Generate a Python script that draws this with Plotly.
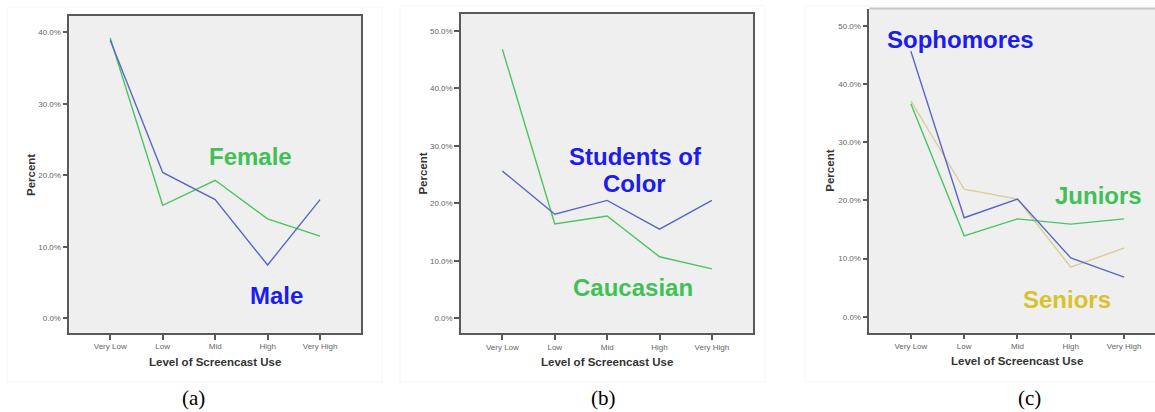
import plotly.graph_objects as go

W, H = 1155, 412

categories = ["Very Low", "Low", "Mid", "High", "Very High"]

# Panel (a)
female = [39.2, 15.8, 19.3, 13.9, 11.5]
male = [38.9, 20.4, 16.6, 7.45, 16.6]
# Panel (b)
caucasian = [46.8, 16.4, 17.8, 10.7, 8.6]
students_of_color = [25.6, 18.1, 20.5, 15.5, 20.5]
# Panel (c)
sophomores = [45.6, 17.0, 20.2, 10.1, 6.8]
juniors = [36.6, 13.9, 16.8, 15.9, 16.8]
seniors = [37.1, 21.9, 20.2, 8.5, 11.8]

ticks_a = [0, 10, 20, 30, 40]
ticks_bc = [0, 10, 20, 30, 40, 50]
ticklabels_a = ["0.0%", "10.0%", "20.0%", "30.0%", "40.0%"]
ticklabels_bc = ["0.0%", "10.0%", "20.0%", "30.0%", "40.0%", "50.0%"]
captions = ["(a)", "(b)", "(c)"]

BLUE_LINE = "#5b67c4"
GREEN_LINE = "#4cc462"
TAN_LINE = "#d9cd98"
BLUE_TXT = "#1c1cee"
GREEN_TXT = "#42c058"
GOLD_TXT = "#d8c22e"


def xp(px):
    return px / W


def yp(py):
    return 1 - py / H


fig = go.Figure()

panels = [
    dict(x0=69.3, x1=361, yt=15.7, yb=333, yr=[-2.06, 42.32], xr=[-0.78, 4.78],
         tv=ticks_a, tt=ticklabels_a, mirror=True),
    dict(x0=461, x1=753.3, yt=14, yb=333.3, yr=[-2.61, 52.92], xr=[-0.79, 4.79],
         tv=ticks_bc, tt=ticklabels_bc, mirror=True),
    dict(x0=869.3, x1=1155, yt=9, yb=332.7, yr=[-2.75, 52.87], xr=[-0.78, 4.58],
         tv=ticks_bc, tt=ticklabels_bc, mirror=False),
]

series = [
    [(female, GREEN_LINE), (male, BLUE_LINE)],
    [(caucasian, GREEN_LINE), (students_of_color, BLUE_LINE)],
    [(seniors, TAN_LINE), (juniors, GREEN_LINE), (sophomores, BLUE_LINE)],
]

TICKFONT = dict(family="Liberation Sans, Arial", size=8, color="#666666")

for i, (p, ser) in enumerate(zip(panels, series)):
    n = "" if i == 0 else str(i + 1)
    for vals, col in ser:
        fig.add_trace(go.Scatter(
            x=categories, y=vals, mode="lines",
            line=dict(color=col, width=1.4),
            xaxis="x" + n, yaxis="y" + n, showlegend=False, hoverinfo="skip",
        ))
    fig.layout["xaxis" + n] = dict(
        domain=[xp(p["x0"]), xp(p["x1"])], anchor="y" + n,
        type="category", categoryorder="array", categoryarray=categories,
        range=p["xr"], showgrid=False, zeroline=False,
        showline=True, linecolor="#595959", linewidth=1.5, mirror=p["mirror"],
        ticks="outside", ticklen=5, tickwidth=1.5, tickcolor="#595959",
        tickfont=TICKFONT, fixedrange=True,
    )
    fig.layout["yaxis" + n] = dict(
        domain=[yp(p["yb"]), yp(p["yt"])], anchor="x" + n,
        range=p["yr"], tickmode="array", tickvals=p["tv"], ticktext=p["tt"],
        showgrid=False, zeroline=False,
        showline=True, linecolor="#595959", linewidth=1.5, mirror=p["mirror"],
        ticks="outside", ticklen=5, tickwidth=1.5, tickcolor="#595959",
        tickfont=TICKFONT, fixedrange=True,
    )

shapes = []
# faint outer panel boxes
for (x0, x1, y0, y1) in [(7, 382, 7, 382), (400, 765, 6, 382), (805, 1160, 6, 382)]:
    shapes.append(dict(type="rect", xref="paper", yref="paper",
                       x0=xp(x0), x1=xp(x1), y0=yp(y1), y1=yp(y0),
                       line=dict(color="#f5f5f5", width=1), fillcolor="rgba(0,0,0,0)",
                       layer="below"))
# plot backgrounds
for p in panels:
    shapes.append(dict(type="rect", xref="paper", yref="paper",
                       x0=xp(p["x0"]), x1=xp(p["x1"]), y0=yp(p["yb"]), y1=yp(p["yt"]),
                       line=dict(width=0), fillcolor="#efefef", layer="below"))
# light top border of panel (c)
shapes.append(dict(type="line", xref="paper", yref="paper",
                   x0=xp(869.3), x1=1, y0=yp(8.5), y1=yp(8.5),
                   line=dict(color="#c6c6c6", width=2)))

ann = []
LBL = "Liberation Sans, Arial"


def add_text(text, x, y, color, size=24, bold=True, angle=0, family=LBL, yanchor="middle"):
    ann.append(dict(text=("<b>%s</b>" % text) if bold else text,
                    x=xp(x), y=yp(y), xref="paper", yref="paper",
                    xanchor="center", yanchor=yanchor, showarrow=False,
                    textangle=angle,
                    font=dict(family=family, size=size, color=color)))


# series labels
add_text("Female", 250.3, 156, GREEN_TXT)
add_text("Male", 276.3, 295.5, BLUE_TXT)
add_text("Students of", 635.5, 156, BLUE_TXT)
add_text("Color", 634.7, 183, BLUE_TXT)
add_text("Caucasian", 632.5, 287, GREEN_TXT)
add_text("Sophomores", 960.2, 40, BLUE_TXT)
add_text("Juniors", 1098.3, 195, GREEN_TXT)
add_text("Seniors", 1066.7, 299.5, GOLD_TXT)

# axis titles
for (px_, py_) in [(31, 175), (423.3, 173.3), (830, 170.7)]:
    add_text("Percent", px_, py_, "#333333", size=11.5, angle=-90)
for (px_, py_) in [(215, 361.5), (607.3, 361.5), (1017.3, 361)]:
    add_text("Level of Screencast Use", px_, py_, "#333333", size=11.5)

# captions
for cap, cx in zip(captions, [193.5, 603, 1029]):
    add_text(cap, cx, 411.5, "#000000", size=21, bold=False,
             family="Liberation Serif, Times New Roman", yanchor="bottom")

fig.update_layout(
    width=W, height=H, margin=dict(l=0, r=0, t=0, b=0),
    paper_bgcolor="white", plot_bgcolor="rgba(0,0,0,0)",
    shapes=shapes, annotations=ann, showlegend=False,
)

fig.write_html("out.html", config={"displayModeBar": False})
